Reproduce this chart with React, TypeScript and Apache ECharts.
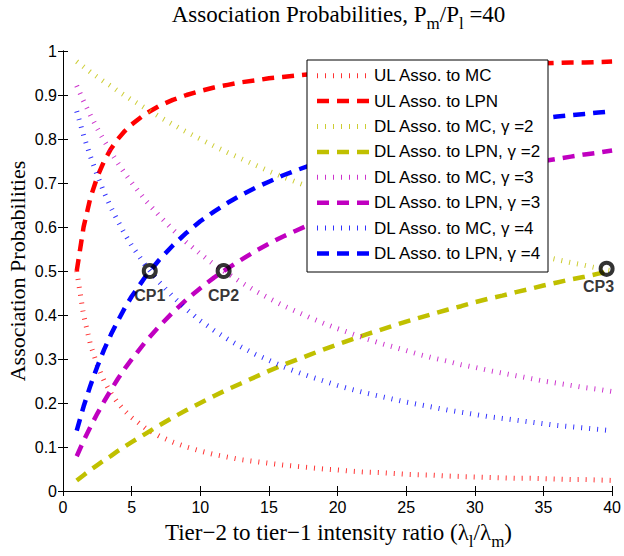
import React, { useEffect, useRef } from "react";
import * as echarts from "echarts";

// x values (tier-2 to tier-1 intensity ratio)
const xs = [1, 1.5, 2, 2.5, 3, 3.5, 4, 4.5, 5, 6, 7, 8, 9, 10, 11, 12, 13, 14, 15, 16, 17, 18, 19, 20, 21, 22, 23, 24, 25, 26, 27, 28, 29, 30, 31, 32, 33, 34, 35, 36, 37, 38, 39, 40];

const ulMC = [0.500, 0.400, 0.333, 0.286, 0.250, 0.222, 0.200, 0.182, 0.167, 0.143, 0.125, 0.111, 0.100, 0.091, 0.083, 0.077, 0.071, 0.067, 0.063, 0.059, 0.056, 0.053, 0.050, 0.048, 0.045, 0.043, 0.042, 0.040, 0.038, 0.037, 0.036, 0.034, 0.033, 0.032, 0.031, 0.030, 0.029, 0.029, 0.028, 0.027, 0.026, 0.026, 0.025, 0.024];
const ulLPN = [0.500, 0.600, 0.667, 0.714, 0.750, 0.778, 0.800, 0.818, 0.833, 0.857, 0.875, 0.889, 0.900, 0.909, 0.917, 0.923, 0.929, 0.933, 0.938, 0.941, 0.944, 0.947, 0.950, 0.952, 0.955, 0.957, 0.958, 0.960, 0.962, 0.963, 0.964, 0.966, 0.967, 0.968, 0.969, 0.970, 0.971, 0.971, 0.972, 0.973, 0.974, 0.974, 0.975, 0.976];
const dlMC2 = [0.976, 0.964, 0.952, 0.941, 0.930, 0.920, 0.909, 0.899, 0.889, 0.870, 0.851, 0.833, 0.816, 0.800, 0.784, 0.769, 0.755, 0.741, 0.727, 0.714, 0.702, 0.690, 0.678, 0.667, 0.656, 0.645, 0.635, 0.625, 0.615, 0.606, 0.597, 0.588, 0.580, 0.571, 0.563, 0.556, 0.548, 0.541, 0.533, 0.526, 0.519, 0.513, 0.506, 0.500];
const dlLPN2 = [0.024, 0.036, 0.048, 0.059, 0.070, 0.080, 0.091, 0.101, 0.111, 0.130, 0.149, 0.167, 0.184, 0.200, 0.216, 0.231, 0.245, 0.259, 0.273, 0.286, 0.298, 0.310, 0.322, 0.333, 0.344, 0.355, 0.365, 0.375, 0.385, 0.394, 0.403, 0.412, 0.420, 0.429, 0.437, 0.444, 0.452, 0.459, 0.467, 0.474, 0.481, 0.487, 0.494, 0.500];
const dlMC3 = [0.921, 0.886, 0.854, 0.824, 0.796, 0.770, 0.745, 0.722, 0.701, 0.661, 0.626, 0.594, 0.565, 0.539, 0.515, 0.494, 0.474, 0.455, 0.438, 0.422, 0.408, 0.394, 0.381, 0.369, 0.358, 0.347, 0.337, 0.328, 0.319, 0.310, 0.302, 0.295, 0.287, 0.281, 0.274, 0.268, 0.262, 0.256, 0.250, 0.245, 0.240, 0.235, 0.231, 0.226];
const dlLPN3 = [0.079, 0.114, 0.146, 0.176, 0.204, 0.230, 0.255, 0.278, 0.299, 0.339, 0.374, 0.406, 0.435, 0.461, 0.485, 0.506, 0.526, 0.545, 0.562, 0.578, 0.592, 0.606, 0.619, 0.631, 0.642, 0.653, 0.663, 0.672, 0.681, 0.690, 0.698, 0.705, 0.713, 0.719, 0.726, 0.732, 0.738, 0.744, 0.750, 0.755, 0.760, 0.765, 0.769, 0.774];
const dlMC4 = [0.863, 0.808, 0.760, 0.717, 0.678, 0.644, 0.613, 0.584, 0.558, 0.513, 0.475, 0.442, 0.413, 0.387, 0.365, 0.345, 0.327, 0.311, 0.297, 0.283, 0.271, 0.260, 0.250, 0.240, 0.231, 0.223, 0.216, 0.209, 0.202, 0.196, 0.190, 0.184, 0.179, 0.174, 0.169, 0.165, 0.161, 0.157, 0.153, 0.149, 0.146, 0.143, 0.140, 0.137];
const dlLPN4 = [0.137, 0.192, 0.240, 0.283, 0.322, 0.356, 0.387, 0.416, 0.442, 0.487, 0.525, 0.558, 0.587, 0.613, 0.635, 0.655, 0.673, 0.689, 0.703, 0.717, 0.729, 0.740, 0.750, 0.760, 0.769, 0.777, 0.784, 0.791, 0.798, 0.804, 0.810, 0.816, 0.821, 0.826, 0.831, 0.835, 0.839, 0.843, 0.847, 0.851, 0.854, 0.857, 0.860, 0.863];

const seriesNames = [
  "UL Asso. to MC",
  "UL Asso. to LPN",
  "DL Asso. to MC, γ =2",
  "DL Asso. to LPN, γ =2",
  "DL Asso. to MC, γ =3",
  "DL Asso. to LPN, γ =3",
  "DL Asso. to MC, γ =4",
  "DL Asso. to LPN, γ =4",
];
const seriesValues = [ulMC, ulLPN, dlMC2, dlLPN2, dlMC3, dlLPN3, dlMC4, dlLPN4];

// crossing points
const cpX = [6.32, 11.7, 39.6];
const cpY = [0.5, 0.5, 0.505];
const cpNames = ["CP1", "CP2", "CP3"];

const X_MIN = 0, X_MAX = 40, X_STEP = 5;
const Y_MIN = 0, Y_MAX = 1, Y_STEP = 0.1;

// styles
const colors = ["#ff0000", "#ff0000", "#c0c000", "#c0c000", "#c000c0", "#c000c0", "#0000ff", "#0000ff"];
const dottedFlags = [true, false, true, false, true, false, true, false];
const DOT = [1, 7];
const DASH = [12, 8];
const SANS = "'Liberation Sans', Arial, sans-serif";
const SERIF = "'Liberation Serif', 'Times New Roman', serif";

const GRID = { left: 63, right: 10, top: 51, bottom: 65 };

export default function App() {
  const ref = useRef<HTMLDivElement>(null);
  useEffect(() => {
    if (!ref.current) return;
    const chart = echarts.init(ref.current, null, { renderer: "svg" });
    const plotCx = GRID.left + (624 - GRID.left - GRID.right) / 2;
    const plotCy = GRID.top + (556 - GRID.top - GRID.bottom) / 2;

    const lineSeries = seriesNames.map((name, i) => ({
      name,
      type: "line",
      data: xs.map((x, j) => [x, seriesValues[i][j]]),
      symbol: "none",
      showSymbol: false,
      silent: true,
      z: 2,
      lineStyle: {
        color: colors[i],
        width: dottedFlags[i] ? 5 : 4.5,
        type: dottedFlags[i] ? DOT : DASH,
        cap: "butt",
        opacity: dottedFlags[i] ? 0.8 : 1,
      },
    }));

    const cpSeries = {
      type: "scatter",
      silent: true,
      z: 5,
      symbol: "circle",
      symbolSize: 12,
      itemStyle: { color: "rgba(0,0,0,0)", borderColor: "#000", borderWidth: 4 },
      data: cpX.map((x, i) => ({
        value: [x, cpY[i]],
        name: cpNames[i],
        label: {
          show: true,
          formatter: cpNames[i],
          position: "bottom",
          distance: 8,
          offset: i === 2 ? [-8, -6] : [0, 0],
          fontFamily: SANS,
          fontWeight: "bold",
          fontSize: 16,
          color: "#000",
        },
      })),
    };

    // legend drawn as graphic
    const legLeft = 307, legTop = 60, legW = 241, legH = 212;
    const rowY0 = 75.7, rowGap = 25.4;
    const legendEls: any[] = [
      {
        type: "rect",
        shape: { x: legLeft, y: legTop, width: legW, height: legH },
        style: { fill: "#fff", stroke: "#000", lineWidth: 1 },
        z: 100,
      },
    ];
    seriesNames.forEach((name, i) => {
      const y = rowY0 + i * rowGap;
      legendEls.push({
        type: "line",
        shape: { x1: 317, y1: y, x2: 369, y2: y },
        style: {
          stroke: colors[i],
          lineWidth: dottedFlags[i] ? 5 : 4.5,
          lineDash: dottedFlags[i] ? DOT : DASH,
          lineCap: "butt",
          opacity: dottedFlags[i] ? 0.8 : 1,
        },
        z: 101,
      });
      legendEls.push({
        type: "text",
        x: 374,
        y: y,
        style: {
          text: name,
          font: `17px ${SANS}`,
          fill: "#000",
          textAlign: "left",
          textVerticalAlign: "middle",
        },
        z: 101,
      });
    });

    const axisCommon = {
      type: "value",
      axisLine: { show: true, lineStyle: { color: "#000", width: 1 } },
      axisTick: { show: true, inside: true, length: 5, lineStyle: { color: "#000" } },
      splitLine: { show: false },
    };

    const option: any = {
      animation: false,
      backgroundColor: "#fff",
      grid: { ...GRID, containLabel: false },
      xAxis: [
        {
          ...axisCommon,
          min: X_MIN,
          max: X_MAX,
          interval: X_STEP,
          position: "bottom",
          axisLabel: { show: true, color: "#000", fontFamily: SANS, fontSize: 16, margin: 8 },
        },
        {
          ...axisCommon,
          min: X_MIN,
          max: X_MAX,
          interval: X_STEP,
          position: "top",
          axisLabel: { show: false },
        },
      ],
      yAxis: [
        {
          ...axisCommon,
          min: Y_MIN,
          max: Y_MAX,
          interval: Y_STEP,
          position: "left",
          axisLabel: { show: true, color: "#000", fontFamily: SANS, fontSize: 16, margin: 6 },
        },
        {
          ...axisCommon,
          min: Y_MIN,
          max: Y_MAX,
          interval: Y_STEP,
          position: "right",
          axisLabel: { show: false },
        },
      ],
      series: [...lineSeries, cpSeries],
      graphic: [
        {
          type: "text",
          x: plotCx,
          y: 1,
          z: 100,
          style: {
            text: "{n|Association Probabilities, P}{s|m}{n|/P}{s|l}{n| =40}",
            textAlign: "center",
            textVerticalAlign: "top",
            fill: "#000",
            rich: {
              n: { fontFamily: SERIF, fontSize: 23, lineHeight: 27, color: "#000" },
              s: { fontFamily: SERIF, fontSize: 17, lineHeight: 20, padding: [18, 0, 0, 0], color: "#000" },
            },
          },
        },
        {
          type: "text",
          x: plotCx,
          y: 519,
          z: 100,
          style: {
            text: "{n|Tier−2 to tier−1 intensity ratio (λ}{s|l}{n|/λ}{s|m}{n|)}",
            textAlign: "center",
            textVerticalAlign: "top",
            fill: "#000",
            rich: {
              n: { fontFamily: SERIF, fontSize: 23, lineHeight: 27, color: "#000" },
              s: { fontFamily: SERIF, fontSize: 17, lineHeight: 20, padding: [18, 0, 0, 0], color: "#000" },
            },
          },
        },
        {
          type: "text",
          x: 17,
          y: plotCy,
          rotation: Math.PI / 2,
          z: 100,
          style: {
            text: "Association Probabilities",
            font: `22px ${SERIF}`,
            fill: "#000",
            textAlign: "center",
            textVerticalAlign: "middle",
          },
        },
        ...legendEls,
      ],
    };
    chart.setOption(option);
    return () => chart.dispose();
  }, []);
  return (
    <div
      ref={ref}
      style={{ position: "absolute", left: 0, top: 0, width: 624, height: 556 }}
    />
  );
}
